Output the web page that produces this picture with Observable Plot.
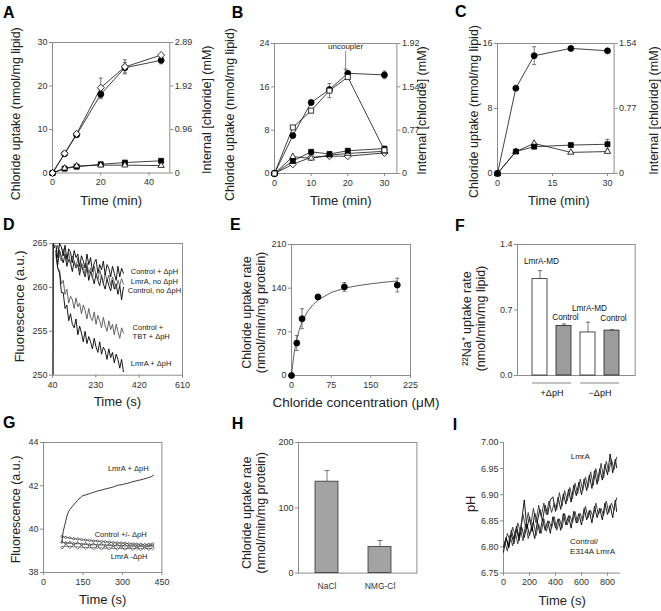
<!DOCTYPE html>
<html><head><meta charset="utf-8">
<script src="https://cdn.jsdelivr.net/npm/d3@7"></script>
<script src="https://cdn.jsdelivr.net/npm/@observablehq/plot@0.6"></script>
<style>
body{margin:0;background:#fff;}
#fig{position:relative;width:661px;height:611px;font-family:"Liberation Sans",Arial,sans-serif;overflow:hidden;background:#fff;}
.panel{position:absolute;}
.letter{position:absolute;font-weight:bold;font-size:16px;line-height:1;color:#000;}
</style></head><body><div id="fig"></div>
<script>
// ---------------- DATA ----------------
const A_time = [0,5,10,20,30,45];
const A_circle = [0,4.4,8.8,18.1,24.2,25.9];
const A_circleErr = [0,0.3,0.3,1.0,1.2,0.8];
const A_diamond = [0,4.5,9.0,19.6,24.4,27.1];
const A_diamondErr = [0,0,0,2.2,1.6,0];
const A_square = [0,1.0,1.45,2.0,2.4,2.8];
const A_triangle = [0,1.1,1.6,1.8,1.8,1.7];
const A_xTicks = [0,20,40], A_yTicks = [0,10,20,30];
const A_rightLabels = ["0","0.96","1.92","2.89"];
const B_time = [0,5,10,15,20,30];
const B_circle = [0,7.0,13.1,15.5,18.5,18.2];
const B_circleErr = [0,0,0,0,0,0.7];
const B_openSquare = [0,8.5,11.6,15.3,17.8,4.3];
const B_openSquareErr = [0,0,0,1.3,0,0];
const B_square = [0,2.3,4.0,3.6,4.2,4.6];
const B_triangle = [0,3.1,2.8,3.4,3.7,4.1];
const B_diamond = [0,1.7,3.0,3.2,3.2,3.8];
const B_xTicks = [0,10,20,30], B_yTicks = [0,8,16,24];
const B_rightLabels = ["0","0.77","1.54","1.92"];
const B_note = [{text:"uncoupler", x:19.4, y:23.4, y1:22.5, y2:18.9}];
const C_time = [0,5,10,20,30];
const C_circle = [0,10.5,14.5,15.4,15.1];
const C_circleErr = [0,0,1.1,0,0];
const C_square = [0,2.7,3.3,3.5,3.6];
const C_squareErr = [0,0,0,0,0.6];
const C_triangle = [0,2.7,3.7,2.6,2.7];
const C_xTicks = [0,15,30], C_yTicks = [0,8,16];
const C_rightLabels = ["0","0.77","1.54"];
const D_time = [55,63,71,79,87,95,103,111,119,127,135,143,151,159,167,175,183,191,199,207,215,223,231,239,247,255,263,271,279,287,295,303,311,319,327,335,343,351];
const D_ctrlDpH = [264.8,263.4,265,264.6,263.6,264.8,263.2,264.4,264,262.8,264.2,263.4,263.8,262.4,263.6,263,262.2,263.8,262.6,263.4,261.8,262.8,263.2,261.6,262.6,262,263,261.4,262.6,262.2,261.2,262.4,261.6,260.8,262.4,261.2,262.2,261.6];
const D_lmraNoDpH = [264,264.8,263.6,263,264.4,263.4,262.8,264,262.6,263.6,263,262.2,263.4,261.8,262.8,262.4,261.4,262.8,261.6,262.2,261,262.4,261.4,260.8,262,261.2,260.4,261.6,260.8,261.4,260.2,261.2,260.6,259.8,260.8,260.2,261,260.4];
const D_ctrlNoDpH = [263.8,262.6,264.2,263.4,262.8,263.8,262.4,263.2,262.8,261.8,263,262.2,262.6,261.4,262.6,261.8,261.2,262.4,260.8,261.8,261.2,260.4,261.6,260.8,260.2,261.4,260.4,259.8,261,260.2,259.6,260.8,259.8,260.4,259.2,260.2,258.6,260];
const D_ctrlTbt = [263.6,262.2,262,260.4,260.8,259.2,259.8,258.2,259,258.6,257.6,258.8,257.8,258.2,257,258,257.4,256.4,257.6,256.6,256.2,257.2,255.8,256.8,256.2,255.4,256.6,255.6,255,256.2,255.2,255.8,254.6,255.8,255,254.2,255.4,254.8];
const D_lmraDpH = [264.2,262.2,261.6,259.4,259.4,257.6,258,256.2,257,255.8,255.4,256.4,254.6,255.6,254.8,253.8,255,253.6,254.4,253.8,253,254.2,253.2,252.6,253.8,252.4,253.2,252.8,251.8,253,252,252.6,251.4,252.4,251.8,250.8,251.8,250.4];
const D_startTime = [43,44,50], D_start = [250,265,264.5];
const D_xTicks = [40,230,420,610], D_yTicks = [250,255,260,265];
const D_notes = [
  {text:"Control + ΔpH", x:383, y:261.8},
  {text:"LmrA, no ΔpH", x:383, y:260.7},
  {text:"Control, no ΔpH", x:370, y:259.6},
  {text:"Control +", x:391, y:255.4},
  {text:"TBT + ΔpH", x:391, y:254.4},
  {text:"LmrA + ΔpH", x:383, y:251.3}
];
const E_conc = [0,10,20,50,100,200];
const E_rate = [0,52,91,126,142,145];
const E_err = [0,12,16,0,7,11];
const E_fitConc = [0,2,5,10,15,20,30,40,50,75,100,125,150,175,200];
const E_fitRate = [0,16,36,58,74,86,102,113,121,133,140,144,147,149.5,151.5];
const E_xTicks = [0,75,150,225], E_yTicks = [0,70,140,210];
const F_keys = ["LmrA-MD +ΔpH","Control +ΔpH","LmrA-MD −ΔpH","Control −ΔpH"];
const F_labels = ["LmrA-MD","Control","LmrA-MD","Control"];
const F_labelY = [1.22,0.62,0.72,0.61];
const F_groups = ["+ΔpH","+ΔpH","−ΔpH","−ΔpH"];
const F_rate = [1.03,0.53,0.46,0.48];
const F_err = [0.09,0.02,0.11,0.01];
const F_yTicks = [0,0.7,1.4];
const G_timePlus = [70,75,80,85,90,95,100,110,120,130,140,150,160,170,180,190,200,210,220,230,240,250,260,270,280,290,300,310,320,330,340,350,360,370,380,390,400,410,418];
const G_lmraPlus = [39.4,39.9,40.15,40.4,40.65,40.8,40.9,41.05,41.2,41.33,41.45,41.55,41.58,41.62,41.66,41.7,41.74,41.78,41.8,41.84,41.87,41.9,41.93,41.97,42.02,42.04,42.06,42.09,42.12,42.15,42.2,42.22,42.25,42.28,42.31,42.35,42.38,42.43,42.49];
const G_timeCtrl = [70,85,100,115,130,145,160,175,190,205,220,235,250,265,280,295,310,325,340,355,370,385,400,415];
const G_ctrlPlus = [39.66,39.62,39.6,39.56,39.55,39.52,39.5,39.48,39.46,39.45,39.43,39.42,39.4,39.38,39.37,39.36,39.35,39.33,39.32,39.31,39.3,39.29,39.3,39.32];
const G_ctrlMinus = [39.4,39.36,39.38,39.33,39.36,39.3,39.33,39.28,39.31,39.26,39.3,39.25,39.28,39.24,39.27,39.22,39.26,39.21,39.25,39.2,39.24,39.2,39.23,39.25];
const G_lmraMinus = [39.15,39.25,39.17,39.22,39.14,39.2,39.12,39.18,39.11,39.17,39.1,39.16,39.1,39.15,39.09,39.15,39.08,39.14,39.08,39.13,39.07,39.13,39.08,39.12];
const G_xTicks = [0,150,300,450], G_yTicks = [38,40,42,44];
const G_notes = [
  {text:"LmrA + ΔpH", x:322, y:42.8},
  {text:"Control +/- ΔpH", x:293, y:39.75},
  {text:"LmrA -ΔpH", x:325, y:38.72}
];
const H_salts = ["NaCl","NMG-Cl"];
const H_rate = [140,40];
const H_err = [17,10];
const H_yTicks = [0,100,200];
const I_time1 = [0,20,40,60,80,100,120,140,160,180,200,220,240,260,280,300,320,340,360,380,400,420,440,460,480,500,520,540,560,580,600,620,640,660,680,700,720,740,760,780,800,820,840,860,870];
const I_time2 = [10,30,50,70,90,110,130,150,170,190,210,230,250,270,290,310,330,350,370,390,410,430,450,470,490,510,530,550,570,590,610,630,650,670,690,710,730,750,770,790,810,830,850,870];
const I_lmraA = [6.79,6.818,6.8,6.832,6.815,6.84,6.818,6.85,6.89,6.835,6.858,6.83,6.865,6.848,6.872,6.85,6.88,6.862,6.89,6.896,6.868,6.895,6.872,6.902,6.882,6.91,6.886,6.918,6.898,6.924,6.9,6.93,6.908,6.938,6.912,6.946,6.92,6.95,6.928,6.958,6.938,6.978,6.942,6.968,6.952];
const I_lmraB = [6.805,6.826,6.812,6.838,6.822,6.846,6.828,6.862,6.838,6.866,6.842,6.874,6.846,6.88,6.858,6.884,6.862,6.888,6.866,6.884,6.872,6.904,6.878,6.908,6.888,6.914,6.892,6.922,6.902,6.93,6.908,6.934,6.914,6.944,6.918,6.95,6.926,6.96,6.932,6.964,6.944,6.968,6.948,6.972];
const I_ctrlA = [6.80,6.818,6.798,6.824,6.806,6.834,6.812,6.838,6.818,6.844,6.822,6.838,6.816,6.848,6.826,6.854,6.832,6.85,6.826,6.858,6.836,6.854,6.832,6.864,6.842,6.86,6.836,6.868,6.846,6.864,6.842,6.874,6.852,6.87,6.846,6.878,6.856,6.874,6.852,6.884,6.862,6.88,6.856,6.89,6.868];
const I_ctrlB = [6.81,6.792,6.822,6.802,6.828,6.806,6.834,6.812,6.844,6.816,6.834,6.848,6.822,6.844,6.826,6.854,6.83,6.85,6.836,6.858,6.832,6.854,6.836,6.864,6.842,6.86,6.846,6.868,6.846,6.864,6.85,6.878,6.856,6.87,6.856,6.884,6.862,6.874,6.86,6.888,6.866,6.884,6.87,6.894];
const I_xTicks = [0,200,400,600,800], I_yTicks = [6.75,6.80,6.85,6.90,6.95,7.00];
const I_notes = [
  {text:"LmrA", x:517, y:6.973},
  {text:"Control/", x:512, y:6.81},
  {text:"E314A LmrA", x:512, y:6.792}
];

// ---------------- HELPERS ----------------
const FONT = "Liberation Sans";
const FR = "#8c8c8c", TK = "#333", TT = "#222";
const fig = document.getElementById("fig");
const cap = {draw(ctx, size){const w = Math.sqrt(size/Math.PI); ctx.moveTo(-w,0); ctx.lineTo(w,0);}};
const zip = (xs, ys, es) => xs.map((x,i) => ({x, y: ys[i], e: es ? es[i] : 0}));

function panel({L,R,T,B,x,y,marks,ml=52,mr=52,mt=26,mb=44}) {
  const width = Math.ceil(ml + (R-L) + mr);
  const height = Math.ceil(mt + (B-T) + mb);
  const svg = Plot.plot({
    width, height,
    marginLeft: ml, marginRight: width - ml - (R-L),
    marginTop: mt, marginBottom: height - mt - (B-T),
    x, y,
    style: {fontFamily: FONT, fontSize: "9px", background: "transparent", overflow: "visible", maxWidth: "none"},
    marks
  });
  const d = document.createElement("div");
  d.className = "panel";
  d.style.left = (L - ml) + "px";
  d.style.top = (T - mt) + "px";
  d.appendChild(svg);
  fig.appendChild(d);
  return svg;
}
const axX = (ticks, o={}) => Plot.axisX({ticks, tickSize:3, tickPadding:3, stroke:FR, fill:TK, label:null, fontSize:9, fontFamily:FONT, tickFormat:d3.format("d"), ...o});
const axY = (ticks, o={}) => Plot.axisY({ticks, tickSize:3, tickPadding:2, stroke:FR, fill:TK, label:null, fontSize:9, fontFamily:FONT, tickFormat:d3.format("d"), ...o});
const axR = (ticks, labels) => axY(ticks, {anchor:"right", tickFormat: d => labels[ticks.indexOf(d)]});
const txt = {fontFamily:FONT, fontWeight:"normal", textAnchor:"middle", lineAnchor:"middle"};
const yTitle = (t, dx, dy=0, fs=12.5) => Plot.text([t], {text:d=>d, frameAnchor:"left", rotate:-90, dx, dy, fontSize:fs, fill:TT, lineHeight:1.08, ...txt});
const rTitle = (t, dx, dy=0, fs=12.5) => Plot.text([t], {text:d=>d, frameAnchor:"right", rotate:-90, dx, dy, fontSize:fs, fill:TT, ...txt});
const xTitle = (t, dx, dy, fs=13) => Plot.text([t], {text:d=>d, frameAnchor:"bottom", dx, dy, fontSize:fs, fill:TT, ...txt});
const notes = (data, fs=7.5, anchor="start") => Plot.text(data, {x:"x", y:"y", text:"text", fontSize:fs, fill:"#1a1a1a", ...txt, textAnchor:anchor});

function series(list) {
  const lines = [], errs = [], dots = [];
  for (const s of list) {
    const pts = zip(s.x, s.y, s.e);
    lines.push(Plot.line(pts, {x:"x", y:"y", stroke:"#111", strokeWidth:0.8}));
    const ep = pts.filter(p => p.e > 0);
    if (ep.length) {
      errs.push(Plot.ruleX(ep, {x:"x", y1:p=>p.y-p.e, y2:p=>p.y+p.e, stroke:"#555", strokeWidth:0.8}));
      errs.push(Plot.dot(ep, {x:"x", y:p=>p.y+p.e, symbol:cap, r:2, stroke:"#555", fill:"none", strokeWidth:0.8}));
      errs.push(Plot.dot(ep, {x:"x", y:p=>p.y-p.e, symbol:cap, r:2, stroke:"#555", fill:"none", strokeWidth:0.8}));
    }
    dots.push(Plot.dot(pts, {x:"x", y:"y", symbol:s.sym, r:s.r || 3, fill: s.open ? "#fff" : "#000", stroke:"#000", strokeWidth:0.8}));
  }
  return [...lines, ...errs, ...dots];
}
const trace = (xs, ys, color="#000", w=0.9) => Plot.line(zip(xs, ys), {x:"x", y:"y", stroke:color, strokeWidth:w, clip:true});

// ---------------- PANEL A ----------------
panel({L:51.7, R:169, T:41.5, B:172,
  x:{domain:[0,48.6]}, y:{domain:[0,30]},
  marks:[
    Plot.frame({stroke:FR}),
    axX(A_xTicks), axY(A_yTicks), axR(A_yTicks, A_rightLabels),
    ...series([
      {x:A_time, y:A_square, sym:"square", r:2.8},
      {x:A_time, y:A_triangle, sym:"triangle2", open:true},
      {x:A_time, y:A_circle, e:A_circleErr, sym:"circle"},
      {x:A_time, y:A_diamond, e:A_diamondErr, sym:"diamond2", open:true, r:3.2}
    ]),
    yTitle("Chloride uptake (nmol/mg lipid)", -36.7, 6),
    rTitle("Internal [chloride] (mM)", 36.7, 2),
    xTitle("Time (min)", 0, 28)
  ]});

// ---------------- PANEL B ----------------
panel({L:274.3, R:396.7, T:42.7, B:172.7,
  x:{domain:[0,33.4]}, y:{domain:[0,24]},
  marks:[
    Plot.frame({stroke:FR}),
    axX(B_xTicks), axY(B_yTicks), axR(B_yTicks, B_rightLabels),
    ...series([
      {x:B_time, y:B_diamond, sym:"diamond2", open:true, r:3.2},
      {x:B_time, y:B_triangle, sym:"triangle2", open:true},
      {x:B_time, y:B_square, sym:"square", r:2.8},
      {x:B_time, y:B_circle, e:B_circleErr, sym:"circle"},
      {x:B_time, y:B_openSquare, e:B_openSquareErr, sym:"square2", open:true, r:3.2}
    ]),
    Plot.arrow(B_note, {x1:"x", x2:"x", y1:"y1", y2:"y2", stroke:"#666", strokeWidth:0.8, headLength:6}),
    Plot.text(B_note, {x:"x", y:"y", text:"text", fontSize:8, fill:"#222", ...txt}),
    yTitle("Chloride uptake (nmol/mg lipid)", -45.3, 6),
    rTitle("Internal [chloride] (mM)", 25, 2),
    xTitle("Time (min)", 5, 27.3)
  ]});

// ---------------- PANEL C ----------------
panel({L:496.7, R:613.3, T:42.7, B:172.7,
  x:{domain:[0,31.8]}, y:{domain:[0,16]},
  marks:[
    Plot.frame({stroke:FR}),
    axX(C_xTicks), axY(C_yTicks), axR(C_yTicks, C_rightLabels),
    ...series([
      {x:C_time, y:C_triangle, sym:"triangle2", open:true},
      {x:C_time, y:C_square, e:C_squareErr, sym:"square", r:2.8},
      {x:C_time, y:C_circle, e:C_circleErr, sym:"circle"}
    ]),
    yTitle("Chloride uptake (nmol/mg lipid)", -23.4, 3),
    rTitle("Internal [chloride] (mM)", 39.4, 2),
    xTitle("Time (min)", 3, 27.3)
  ]});

// ---------------- PANEL D ----------------
panel({L:51.7, R:181.7, T:243.3, B:375,
  x:{domain:[40,610]}, y:{domain:[250,265]},
  marks:[
    Plot.frame({stroke:FR}),
    axX(D_xTicks), axY(D_yTicks),
    trace(D_time, D_ctrlNoDpH, "#000"),
    trace(D_time, D_lmraNoDpH, "#555"),
    trace(D_time, D_ctrlDpH, "#000"),
    trace(D_time, D_ctrlTbt, "#555"),
    trace(D_time, D_lmraDpH, "#000"),
    trace(D_startTime, D_start, "#000"),
    notes(D_notes),
    yTitle("Fluorescence (a.u.)", -32.7, -3, 13),
    xTitle("Time (s)", 0, 26.7)
  ]});

// ---------------- PANEL E ----------------
panel({L:291, R:410, T:244, B:375,
  x:{domain:[0,225]}, y:{domain:[0,210]},
  marks:[
    Plot.frame({stroke:FR}),
    axX(E_xTicks), axY(E_yTicks),
    Plot.line(zip(E_fitConc, E_fitRate), {x:"x", y:"y", stroke:"#333", strokeWidth:0.8}),
    ...series([{x:E_conc, y:E_rate, e:E_err, sym:"circle"}]).filter((m,i) => i > 0),
    yTitle("Chloride uptake rate\n(nmol/min/mg protein)", -37.7, 2.5, 12.5),
    xTitle("Chloride concentration (μM)", 5, 26.7, 13.5)
  ]});

// ---------------- PANEL F ----------------
const F_data = F_keys.map((k,i) => ({key:k, label:F_labels[i], ly:F_labelY[i], group:F_groups[i], v:F_rate[i], e:F_err[i]}));
const F_groupSpans = [...new Set(F_groups)].map(g => {
  const ks = F_keys.filter((k,i) => F_groups[i] === g);
  return {group:g, x1:ks[0], x2:ks[ks.length-1]};
});
panel({L:517.3, R:635, T:244, B:375,
  x:{domain:F_keys, paddingInner:0.36, paddingOuter:0.63, align:0.48, axis:null},
  y:{domain:[0,1.4]},
  marks:[
    Plot.frame({stroke:FR}),
    axY(F_yTicks, {tickFormat:d3.format(".1f")}),
    Plot.ruleX(F_data, {x:"key", y1:"v", y2:d=>d.v+d.e, stroke:"#555", strokeWidth:0.8}),
    Plot.dot(F_data, {x:"key", y:d=>d.v+d.e, symbol:cap, r:2.2, stroke:"#555", fill:"none", strokeWidth:0.8}),
    Plot.barY(F_data, {x:"key", y:"v", fill:d => d.label === "Control" ? "#9c9c9c" : "#fff", stroke:"#222", strokeWidth:0.8, insetLeft:0, insetRight:0}),
    Plot.text(F_data, {x:"key", y:"ly", text:"label", dx:1.5, fontSize:8.2, fill:"#111", ...txt}),
    Plot.ruleY(F_groupSpans, {y:() => 0, x1:"x1", x2:"x2", dy:7.5, stroke:"#888", strokeWidth:1.2}),
    Plot.text(F_groupSpans, {x:"x2", y:() => 0, text:"group", dx:-12, dy:18, fontSize:9, fill:"#111", ...txt}),
    yTitle("²²Na⁺ uptake rate\n(nmol/min/mg lipid)", -44, 8.5, 12.5)
  ]});

// ---------------- PANEL G ----------------
panel({L:43.3, R:161.7, T:442.3, B:572.3,
  x:{domain:[0,450]}, y:{domain:[38,44]},
  marks:[
    Plot.frame({stroke:FR}),
    axX(G_xTicks), axY(G_yTicks),
    trace(G_timeCtrl, G_lmraMinus, "#222", 0.8),
    trace(G_timeCtrl, G_ctrlMinus, "#222", 0.8),
    trace(G_timeCtrl, G_ctrlPlus, "#222", 0.8),
    Plot.dot(zip(G_timeCtrl, G_lmraMinus), {x:"x", y:"y", r:1.3, symbol:"diamond2", stroke:"#222", fill:"#fff", strokeWidth:0.6}),
    Plot.dot(zip(G_timeCtrl, G_ctrlMinus), {x:"x", y:"y", r:1.3, symbol:"triangle2", stroke:"#222", fill:"#fff", strokeWidth:0.6}),
    Plot.dot(zip(G_timeCtrl, G_ctrlPlus), {x:"x", y:"y", r:1.1, stroke:"#222", fill:"#fff", strokeWidth:0.6}),
    trace(G_timePlus, G_lmraPlus, "#222", 0.9),
    notes(G_notes, 7.5, "middle"),
    yTitle("Fluorescence (a.u.)", -28.3, 2, 12.5),
    xTitle("Time (s)", 0, 27.7)
  ]});

// ---------------- PANEL H ----------------
const H_data = H_salts.map((s,i) => ({salt:s, v:H_rate[i], e:H_err[i]}));
panel({L:298.3, R:416.7, T:441.7, B:572.3,
  x:{domain:H_salts, paddingInner:0.573, paddingOuter:0.385, align:0.386},
  y:{domain:[0,200]},
  marks:[
    Plot.frame({stroke:FR}),
    Plot.axisX({tickSize:0, tickPadding:10, fill:TK, label:null, fontSize:8.5, fontFamily:FONT}),
    axY(H_yTicks),
    Plot.ruleX(H_data, {x:"salt", y1:"v", y2:d=>d.v+d.e, stroke:"#555", strokeWidth:0.8}),
    Plot.dot(H_data, {x:"salt", y:d=>d.v+d.e, symbol:cap, r:2.5, stroke:"#555", fill:"none", strokeWidth:0.8}),
    Plot.barY(H_data, {x:"salt", y:"v", fill:"#a3a3a3", stroke:"#333", strokeWidth:0.8, insetLeft:0, insetRight:0}),
    yTitle("Chloride uptake rate\n(nmol/min/mg protein)", -45, 5, 12.5)
  ]});

// ---------------- PANEL I ----------------
panel({L:502.7, R:620, T:441.7, B:572.3,
  x:{domain:[0,902]}, y:{domain:[6.75,7.0]},
  marks:[
    Plot.ruleX([0], {stroke:FR}),
    Plot.ruleY([6.75], {stroke:FR}),
    axX(I_xTicks), axY(I_yTicks, {tickFormat:d3.format(".2f")}),
    trace(I_time1, I_ctrlA, "#000", 0.9),
    trace(I_time2, I_ctrlB, "#333", 0.9),
    trace(I_time1, I_lmraA, "#000", 0.9),
    trace(I_time2, I_lmraB, "#333", 0.9),
    notes(I_notes, 8),
    yTitle("pH", -32.7, -4, 13),
    xTitle("Time (s)", 0, 27.7)
  ]});

// ---------------- PANEL LETTERS ----------------
const letters = [["A",3,4.5],["B",231.7,4.5],["C",455,3.5],["D",3,216.5],["E",230,217],["F",455,218],["G",3,414.5],["H",231.7,415.5],["I",452.7,416.5]];
for (const [t,l,tp] of letters) {
  const d = document.createElement("div");
  d.className = "letter"; d.textContent = t;
  d.style.left = l + "px"; d.style.top = tp + "px";
  fig.appendChild(d);
}
</script></body></html>
